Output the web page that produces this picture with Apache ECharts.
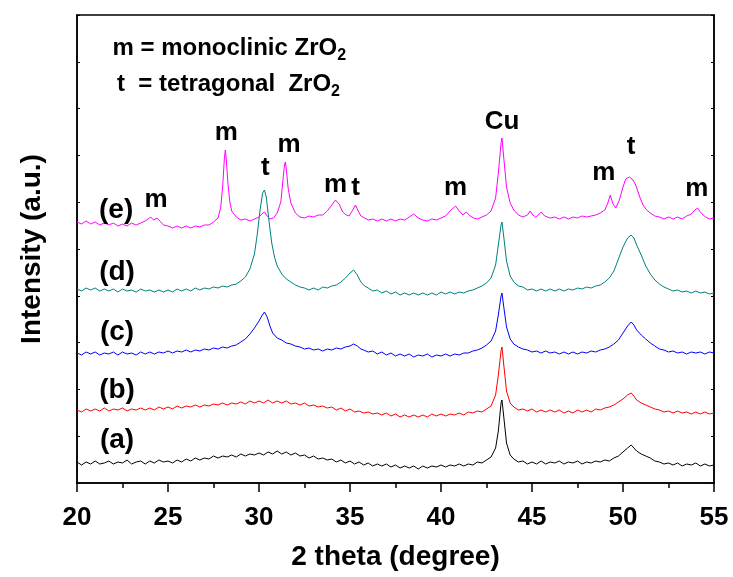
<!DOCTYPE html>
<html>
<head>
<meta charset="utf-8">
<script src="https://cdn.jsdelivr.net/npm/echarts@6/dist/echarts.min.js"></script>
<style>
  html, body { margin: 0; padding: 0; background: #fff; }
  #xrdChart { width: 733px; height: 577px; }
</style>
</head>
<body>
<div id="xrdChart"></div>
<script>
// XRD patterns, [2theta, intensity(a.u., already stacked)]
var patternA = [[20,21],[20.25,18],[20.5,21],[20.75,19],[21,22],[21.25,19],[21.5,20],[21.75,22],[22,19],[22.25,21],[22.5,20],[22.75,23],[23,19],[23.25,21],[23.5,22],[23.75,19],[24,22],[24.25,20],[24.5,23],[24.75,21],[25,22],[25.25,20],[25.5,23],[25.75,21],[26,24],[26.25,22],[26.5,25],[26.75,23],[27,25],[27.25,24],[27.5,27],[27.75,25],[28,27],[28.25,26],[28.5,28],[28.75,26],[29,29],[29.25,27],[29.5,29],[29.75,28],[30,30],[30.25,28],[30.5,31],[30.75,29],[31,32],[31.25,29],[31.5,31],[31.75,28],[32,30],[32.25,27],[32.5,28],[32.75,25],[33,27],[33.25,24],[33.5,25],[33.75,23],[34,24],[34.25,21],[34.5,23],[34.75,20],[35,22],[35.25,19],[35.5,21],[35.75,18],[36,20],[36.25,17],[36.5,19],[36.75,17],[37,19],[37.25,16],[37.5,18],[37.75,15],[38,17],[38.25,15],[38.5,17],[38.75,14],[39,17],[39.25,15],[39.5,17],[39.75,16],[40,18],[40.25,16],[40.5,18],[40.75,17],[41,19],[41.25,17],[41.5,19],[41.75,18],[42,21],[42.25,20],[42.5,23],[42.75,26],[43,35],[43.15,52],[43.3,80],[43.35,83],[43.45,66],[43.6,40],[43.8,28],[44,24],[44.25,21],[44.5,22],[44.75,19],[45,21],[45.25,19],[45.5,22],[45.75,19],[46,21],[46.25,20],[46.5,22],[46.75,19],[47,21],[47.25,20],[47.5,22],[47.75,19],[48,21],[48.25,20],[48.5,22],[48.75,21],[49,23],[49.25,22],[49.5,25],[49.75,27],[50,31],[50.25,35],[50.45,38],[50.6,35],[50.75,32],[51,29],[51.25,27],[51.5,25],[51.75,22],[52,21],[52.25,19],[52.5,20],[52.75,18],[53,20],[53.25,17],[53.5,19],[53.75,18],[54,20],[54.25,17],[54.5,19],[54.75,17],[55,18]];

var patternB = [[20,73],[20.25,71],[20.5,74],[20.75,72],[21,74],[21.25,72],[21.5,75],[21.75,72],[22,74],[22.25,73],[22.5,75],[22.75,72],[23,74],[23.25,73],[23.5,75],[23.75,73],[24,75],[24.25,73],[24.5,76],[24.75,74],[25,76],[25.25,74],[25.5,77],[25.75,75],[26,77],[26.25,76],[26.5,78],[26.75,76],[27,78],[27.25,77],[27.5,79],[27.75,78],[28,80],[28.25,78],[28.5,80],[28.75,79],[29,81],[29.25,79],[29.5,82],[29.75,80],[30,82],[30.25,80],[30.5,83],[30.75,80],[31,82],[31.25,80],[31.5,82],[31.75,79],[32,80],[32.25,78],[32.5,80],[32.75,77],[33,78],[33.25,76],[33.5,77],[33.75,75],[34,76],[34.25,73],[34.5,75],[34.75,72],[35,74],[35.25,71],[35.5,72],[35.75,70],[36,71],[36.25,69],[36.5,70],[36.75,68],[37,70],[37.25,67],[37.5,69],[37.75,66],[38,68],[38.25,66],[38.5,68],[38.75,66],[39,68],[39.25,66],[39.5,69],[39.75,67],[40,69],[40.25,67],[40.5,69],[40.75,68],[41,70],[41.25,68],[41.5,71],[41.75,70],[42,72],[42.25,71],[42.5,74],[42.75,77],[43,88],[43.15,108],[43.3,132],[43.35,136],[43.45,118],[43.6,92],[43.8,80],[44,76],[44.25,73],[44.5,74],[44.75,72],[45,74],[45.25,71],[45.5,73],[45.75,71],[46,73],[46.25,71],[46.5,73],[46.75,70],[47,72],[47.25,70],[47.5,73],[47.75,71],[48,73],[48.25,71],[48.5,74],[48.75,73],[49,75],[49.25,76],[49.5,78],[49.75,81],[50,84],[50.25,88],[50.45,90],[50.6,87],[50.75,83],[51,80],[51.25,78],[51.5,76],[51.75,74],[52,73],[52.25,71],[52.5,72],[52.75,70],[53,72],[53.25,70],[53.5,71],[53.75,69],[54,71],[54.25,69],[54.5,71],[54.75,69],[55,70]];

var patternC = [[20,130],[20.25,128],[20.5,131],[20.75,129],[21,131],[21.25,128],[21.5,130],[21.75,129],[22,131],[22.25,128],[22.5,131],[22.75,129],[23,130],[23.25,128],[23.5,131],[23.75,129],[24,131],[24.25,129],[24.5,131],[24.75,130],[25,132],[25.25,130],[25.5,132],[25.75,131],[26,133],[26.25,131],[26.5,133],[26.75,132],[27,134],[27.25,133],[27.5,135],[27.75,134],[28,136],[28.25,135],[28.5,137],[28.75,138],[29,141],[29.25,144],[29.5,149],[29.75,155],[30,162],[30.15,167],[30.3,171],[30.45,166],[30.6,157],[30.75,150],[31,145],[31.25,143],[31.5,140],[31.75,139],[32,137],[32.25,136],[32.5,134],[32.75,135],[33,133],[33.25,134],[33.5,132],[33.75,134],[34,133],[34.25,135],[34.5,134],[34.75,136],[35,137],[35.2,139],[35.4,137],[35.6,134],[35.75,133],[36,131],[36.25,132],[36.5,129],[36.75,131],[37,128],[37.25,130],[37.5,127],[37.75,129],[38,127],[38.25,129],[38.5,126],[38.75,128],[39,127],[39.25,129],[39.5,126],[39.75,128],[40,127],[40.25,129],[40.5,127],[40.75,129],[41,128],[41.25,130],[41.5,130],[41.75,132],[42,133],[42.25,135],[42.5,138],[42.75,142],[43,152],[43.15,168],[43.3,187],[43.35,190],[43.45,176],[43.6,156],[43.8,144],[44,139],[44.25,136],[44.5,134],[44.75,133],[45,131],[45.25,132],[45.5,130],[45.75,132],[46,130],[46.25,131],[46.5,129],[46.75,131],[47,129],[47.25,131],[47.5,129],[47.75,131],[48,130],[48.25,132],[48.5,131],[48.75,133],[49,134],[49.25,136],[49.5,139],[49.75,143],[50,150],[50.25,157],[50.45,161],[50.6,158],[50.75,153],[51,148],[51.25,144],[51.5,140],[51.75,137],[52,134],[52.25,133],[52.5,131],[52.75,132],[53,130],[53.25,131],[53.5,129],[53.75,131],[54,130],[54.25,131],[54.5,129],[54.75,131],[55,130]];

var patternD = [[20,194],[20.25,192],[20.5,195],[20.75,193],[21,195],[21.25,192],[21.5,194],[21.75,192],[22,194],[22.25,191],[22.5,194],[22.75,192],[23,193],[23.25,191],[23.5,194],[23.75,192],[24,193],[24.25,191],[24.5,193],[24.75,191],[25,193],[25.25,191],[25.5,194],[25.75,192],[26,194],[26.25,192],[26.5,195],[26.75,193],[27,195],[27.25,194],[27.5,196],[27.75,195],[28,197],[28.25,196],[28.5,198],[28.75,199],[29,202],[29.25,206],[29.5,214],[29.75,229],[29.9,248],[30.05,272],[30.2,290],[30.3,293],[30.4,286],[30.55,262],[30.7,240],[30.85,226],[31,217],[31.25,209],[31.5,204],[31.75,201],[32,198],[32.25,196],[32.5,195],[32.75,193],[33,195],[33.25,193],[33.5,196],[33.75,195],[34,197],[34.25,198],[34.5,201],[34.75,205],[35,210],[35.2,213],[35.4,208],[35.6,201],[35.8,197],[36,195],[36.25,192],[36.5,193],[36.75,190],[37,192],[37.25,189],[37.5,191],[37.75,188],[38,190],[38.25,188],[38.5,190],[38.75,188],[39,190],[39.25,188],[39.5,190],[39.75,188],[40,191],[40.25,189],[40.5,191],[40.75,189],[41,191],[41.25,190],[41.5,192],[41.75,193],[42,195],[42.25,197],[42.5,200],[42.75,205],[43,218],[43.15,238],[43.3,258],[43.35,261],[43.45,246],[43.6,222],[43.8,207],[44,201],[44.25,197],[44.5,196],[44.75,193],[45,194],[45.25,192],[45.5,194],[45.75,192],[46,194],[46.25,192],[46.5,194],[46.75,192],[47,194],[47.25,193],[47.5,195],[47.75,194],[48,196],[48.25,195],[48.5,197],[48.75,198],[49,201],[49.25,205],[49.5,212],[49.75,224],[50,236],[50.25,245],[50.45,248],[50.6,245],[50.75,238],[51,228],[51.25,217],[51.5,209],[51.75,203],[52,199],[52.25,196],[52.5,194],[52.75,192],[53,193],[53.25,191],[53.5,192],[53.75,190],[54,192],[54.25,190],[54.5,191],[54.75,189],[55,190]];

var patternE = [[20,261],[20.25,259],[20.5,262],[20.75,259],[21,261],[21.25,258],[21.5,260],[21.75,258],[22,260],[22.25,257],[22.5,259],[22.75,257],[23,260],[23.25,258],[23.5,260],[23.75,262],[24.05,266],[24.2,263],[24.4,265],[24.6,261],[24.75,258],[25,257],[25.25,255],[25.5,257],[25.75,255],[26,257],[26.25,255],[26.5,257],[26.75,256],[27,258],[27.25,258],[27.5,261],[27.75,265],[27.9,276],[28,296],[28.1,325],[28.15,333],[28.2,324],[28.3,298],[28.4,281],[28.5,272],[28.75,266],[29,263],[29.25,264],[29.5,262],[29.75,264],[30,266],[30.15,269],[30.3,271],[30.45,267],[30.6,264],[30.8,265],[31,270],[31.2,281],[31.3,300],[31.4,318],[31.45,321],[31.5,314],[31.6,295],[31.75,280],[32,270],[32.25,266],[32.5,265],[32.75,267],[33,266],[33.25,268],[33.5,268],[33.75,272],[34,278],[34.2,283],[34.4,279],[34.6,271],[34.8,268],[34.95,267],[35.15,273],[35.3,278],[35.45,272],[35.6,267],[35.8,265],[36,263],[36.25,264],[36.5,262],[36.75,264],[37,262],[37.25,264],[37.5,262],[37.75,264],[38,263],[38.25,266],[38.5,269],[38.75,265],[39,263],[39.25,262],[39.5,264],[39.75,263],[40,265],[40.25,267],[40.5,272],[40.8,277],[41,272],[41.2,268],[41.4,271],[41.6,267],[41.8,265],[42,264],[42.25,266],[42.5,268],[42.75,272],[43,285],[43.15,310],[43.3,340],[43.35,345],[43.45,325],[43.6,296],[43.8,280],[44,273],[44.25,268],[44.5,266],[44.75,268],[44.9,272],[45.05,268],[45.2,266],[45.35,268],[45.5,271],[45.7,267],[46,265],[46.25,266],[46.5,264],[46.75,266],[47,264],[47.25,266],[47.5,265],[47.75,267],[48,266],[48.25,267],[48.5,268],[48.75,270],[49,273],[49.15,279],[49.3,288],[49.45,279],[49.6,275],[49.8,283],[50,296],[50.15,304],[50.35,306],[50.55,303],[50.7,298],[50.9,287],[51.1,278],[51.3,273],[51.5,270],[51.75,267],[52,266],[52.25,264],[52.5,266],[52.75,264],[53,266],[53.25,264],[53.5,267],[53.75,269],[53.95,273],[54.1,275],[54.25,271],[54.4,268],[54.55,266],[54.75,264],[55,265]];

var sampleNames = ['(a)', '(b)', '(c)', '(d)', '(e)'];
var sampleColors = ['#000000', '#ff0000', '#0000ff', '#008080', '#ff00ff'];

// text labels: [2theta, intensity, text]
var sampleLabels = [[22.2,43,'(a)'],[22.2,93,'(b)'],[22.2,151,'(c)'],[22.2,211,'(d)'],[22.15,273,'(e)']];
var peakLabels = [[24.35,283,'m'],[28.2,350,'m'],[30.35,315,'t'],[31.65,338,'m'],[34.2,298,'m'],[35.3,295,'t'],[40.8,295,'m'],[43.35,361,'Cu'],[48.95,310,'m'],[50.45,336,'t'],[54.05,294,'m']];
var phaseNotes = [[21.95,435,'m = monoclinic ZrO{s|2}'],[22.2,399,'t  = tetragonal  ZrO{s|2}']];

var fontName = 'Liberation Sans';

var chart = echarts.init(document.getElementById('xrdChart'));

var series = [];
[patternA, patternB, patternC, patternD, patternE].forEach(function(p, i) {
    series.push({
        name: sampleNames[i],
        type: 'line',
        data: p,
        showSymbol: false,
        symbol: 'none',
        lineStyle: {color: sampleColors[i], width: 1},
        z: 2 + i
    });
});

series.push({
    type: 'scatter',
    data: sampleLabels,
    symbolSize: 0,
    itemStyle: {opacity: 1},
    label: {
        show: true,
        position: 'inside',
        formatter: function(p) { return p.data[2]; },
        color: '#000',
        fontFamily: fontName,
        fontWeight: 'bold',
        fontSize: 28
    },
    z: 10
});

series.push({
    type: 'scatter',
    data: peakLabels,
    symbolSize: 0,
    itemStyle: {opacity: 1},
    label: {
        show: true,
        position: 'inside',
        formatter: function(p) { return p.data[2]; },
        color: '#000',
        fontFamily: fontName,
        fontWeight: 'bold',
        fontSize: 26
    },
    z: 10
});

series.push({
    type: 'scatter',
    data: phaseNotes,
    symbolSize: 0,
    itemStyle: {opacity: 1},
    label: {
        show: true,
        position: 'right',
        distance: 0,
        formatter: function(p) { return p.data[2]; },
        color: '#000',
        fontFamily: fontName,
        fontWeight: 'bold',
        fontSize: 24,
        rich: {
            s: {color: '#000', fontFamily: fontName, fontWeight: 'bold', fontSize: 16, padding: [16, 0, 0, 0]}
        }
    },
    z: 10
});

var option = {
    animation: false,
    backgroundColor: '#fff',
    grid: {left: 77, right: 19, top: 15, bottom: 94, show: true, borderColor: '#000', borderWidth: 1.5},
    xAxis: {
        type: 'value',
        min: 20,
        max: 55,
        interval: 5,
        name: '2 theta (degree)',
        nameLocation: 'middle',
        nameGap: 60,
        nameTextStyle: {fontFamily: fontName, fontWeight: 'bold', fontSize: 28, color: '#000'},
        axisLine: {show: true, lineStyle: {color: '#000', width: 1.5}},
        axisTick: {show: true, length: 9, lineStyle: {color: '#000', width: 1.5}},
        minorTick: {show: true, splitNumber: 2, length: 5, lineStyle: {color: '#000', width: 1.5}},
        axisLabel: {margin: 22, fontFamily: fontName, fontWeight: 'bold', fontSize: 26, color: '#000'},
        splitLine: {show: false}
    },
    yAxis: [{
        type: 'value',
        min: 0,
        max: 468,
        interval: 46.8,
        name: 'Intensity (a.u.)',
        nameLocation: 'middle',
        nameGap: 31,
        nameTextStyle: {fontFamily: fontName, fontWeight: 'bold', fontSize: 28, color: '#000'},
        axisLine: {show: true, lineStyle: {color: '#000', width: 1.5}},
        axisTick: {show: true, inside: true, length: 3, lineStyle: {color: '#000'}},
        axisLabel: {show: false},
        splitLine: {show: false}
    }, {
        type: 'value',
        position: 'right',
        min: 0,
        max: 468,
        interval: 46.8,
        axisLine: {show: true, lineStyle: {color: '#000', width: 1.5}},
        axisTick: {show: true, inside: true, length: 3, lineStyle: {color: '#000'}},
        axisLabel: {show: false},
        splitLine: {show: false}
    }],
    series: series
};

chart.setOption(option);
</script>
</body>
</html>
